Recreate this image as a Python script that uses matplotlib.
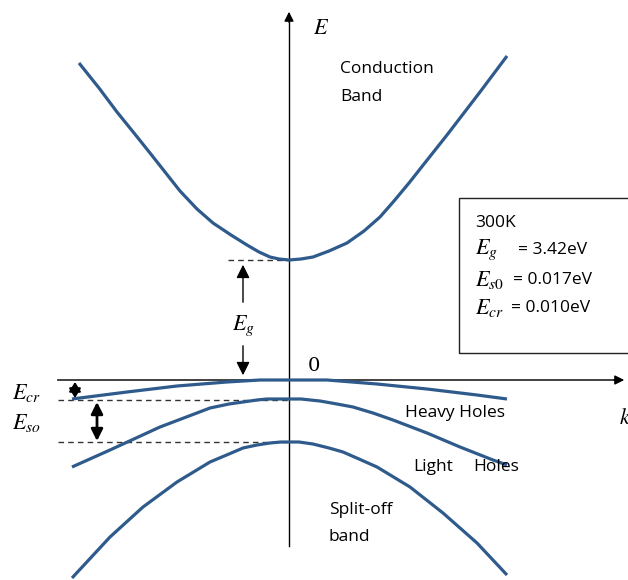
import matplotlib
matplotlib.use("Agg")
import matplotlib.pyplot as plt
from matplotlib.patches import Rectangle

plt.rcParams['mathtext.fontset'] = 'stix'
plt.rcParams['font.family'] = ['Open Sans', 'DejaVu Sans']

# ---- data (schematic units: k, E) ----
cb_k = [-210, -190, -172, -155, -139, -124, -109, -92, -76, -58, -42, -30, -19, -10, 0,
        12, 24, 40, 58, 75, 91, 105, 120, 135, 158, 191, 218]
cb_E = [317, 292, 268, 247, 227, 208, 189, 171, 157, 145, 135, 128, 123, 121, 120,
        121, 123, 129, 137, 149, 163, 179, 197, 216, 245, 288, 324]

hh_k = [-217, -162, -112, -62, -29, 0, 38, 88, 138, 188, 218]
hh_E = [-19, -12, -6, -2, 0, 0, 0, -4, -9, -15, -19]

lh_k = [-217, -179, -129, -100, -79, -60, -46, -32, -22, -10, 0, 12, 31, 48, 64, 84, 104, 138, 171, 204, 218]
lh_E = [-87, -70, -47, -36, -28, -24, -22, -20, -19, -19, -19, -19, -21, -24, -27, -33, -40, -53, -67, -80, -85]

so_k = [-217, -179, -146, -112, -79, -60, -46, -32, -19, -8, 0, 10, 24, 40, 54, 70, 88, 121, 154, 188, 218]
so_E = [-198, -157, -127, -102, -82, -74, -68, -65, -63, -62, -62, -62, -64, -68, -72, -79, -87, -107, -133, -163, -195]

Eg_level = 120
hh_top = 0
lh_top = -20
so_top = -62

box_title = "300K"
box_labels = [r"$E_g$", r"$E_{s0}$", r"$E_{cr}$"]
box_values = ["= 3.42eV", "= 0.017eV", "= 0.010eV"]

band_color = '#2F5B8C'

fig = plt.figure(figsize=(6.28, 5.80), dpi=100)
ax = fig.add_axes([0, 0, 1, 1])
ax.set_xlim(-289, 339)
ax.set_ylim(-200, 380)
ax.axis('off')

for k, E in [(cb_k, cb_E), (hh_k, hh_E), (lh_k, lh_E), (so_k, so_E)]:
    ax.plot(k, E, color=band_color, lw=2.3, solid_capstyle='butt',
            solid_joinstyle='round', zorder=3)

# axes
ax.plot([0, 0], [-166, 362], color='black', lw=1.0, zorder=2)
ax.annotate('', xy=(0, 371), xytext=(0, 355),
            arrowprops=dict(arrowstyle='-|>', color='black', lw=1.0, mutation_scale=14))
ax.plot([-231, 325], [0, 0], color='#333333', lw=1.3, zorder=2)
ax.annotate('', xy=(338, 0), xytext=(322, 0),
            arrowprops=dict(arrowstyle='-|>', color='black', lw=1.0, mutation_scale=14))

# dashed reference lines
dash = dict(color='#333333', lw=1.0, linestyle=(0, (4, 3)), zorder=1)
ax.plot([-61, 0], [Eg_level, Eg_level], **dash)
ax.plot([-231, 0], [lh_top, lh_top], **dash)
ax.plot([-231, 0], [so_top, so_top], **dash)

# Eg arrows
ap = dict(arrowstyle='-|>,head_length=0.5,head_width=0.25', color='black', lw=1.0, mutation_scale=16)
ax.annotate('', xy=(-46, Eg_level - 2), xytext=(-46, 75), arrowprops=ap)
ax.annotate('', xy=(-46, hh_top + 2), xytext=(-46, 37), arrowprops=ap)
ax.text(-46, 54, r'$E_g$', fontsize=16, ha='center', va='center')

# Ecr / Eso double arrows
ax.annotate('', xy=(-214, -18), xytext=(-214, -2),
            arrowprops=dict(arrowstyle='<|-|>,head_length=0.4,head_width=0.25',
                            color='black', lw=1.5, mutation_scale=14, shrinkA=0, shrinkB=0))
ax.annotate('', xy=(-192, so_top + 1), xytext=(-192, lh_top - 2),
            arrowprops=dict(arrowstyle='<|-|>,head_length=0.5,head_width=0.25',
                            color='black', lw=2.0, mutation_scale=14, shrinkA=0, shrinkB=0))
ax.text(-277, -13, r'$E_{cr}$', fontsize=16, ha='left', va='center')
ax.text(-277, -43, r'$E_{so}$', fontsize=16, ha='left', va='center')

# axis labels
ax.text(24, 352, r'$E$', fontsize=16, ha='left', va='center')
ax.text(19, 14, '0', fontsize=14, ha='left', va='center', family='DejaVu Serif')
ax.text(330, -38, r'$k$', fontsize=16, ha='left', va='center')

# band labels
tfs = 12.5
ax.text(51, 311, 'Conduction', fontsize=tfs, ha='left', va='center')
ax.text(51, 283, 'Band', fontsize=tfs, ha='left', va='center')
ax.text(116, -33, 'Heavy Holes', fontsize=tfs, ha='left', va='center')
ax.text(124, -87, 'Light', fontsize=tfs, ha='left', va='center')
ax.text(184, -87, 'Holes', fontsize=tfs, ha='left', va='center')
ax.text(40, -130, 'Split-off', fontsize=tfs, ha='left', va='center')
ax.text(40, -157, 'band', fontsize=tfs, ha='left', va='center')

# info box
ax.add_patch(Rectangle((170, 27), 200, 155, fill=False, edgecolor='#222222', lw=1.0, zorder=4))
ax.text(186, 157, box_title, fontsize=tfs, ha='left', va='center')
row_E = [130, 100, 72]
val_k = [229, 224, 222]
for lab, val, e, vk in zip(box_labels, box_values, row_E, val_k):
    ax.text(186, e, lab, fontsize=16, ha='left', va='center')
    ax.text(vk, e, val, fontsize=tfs, ha='left', va='center')

fig.savefig('out.png', dpi=100)
